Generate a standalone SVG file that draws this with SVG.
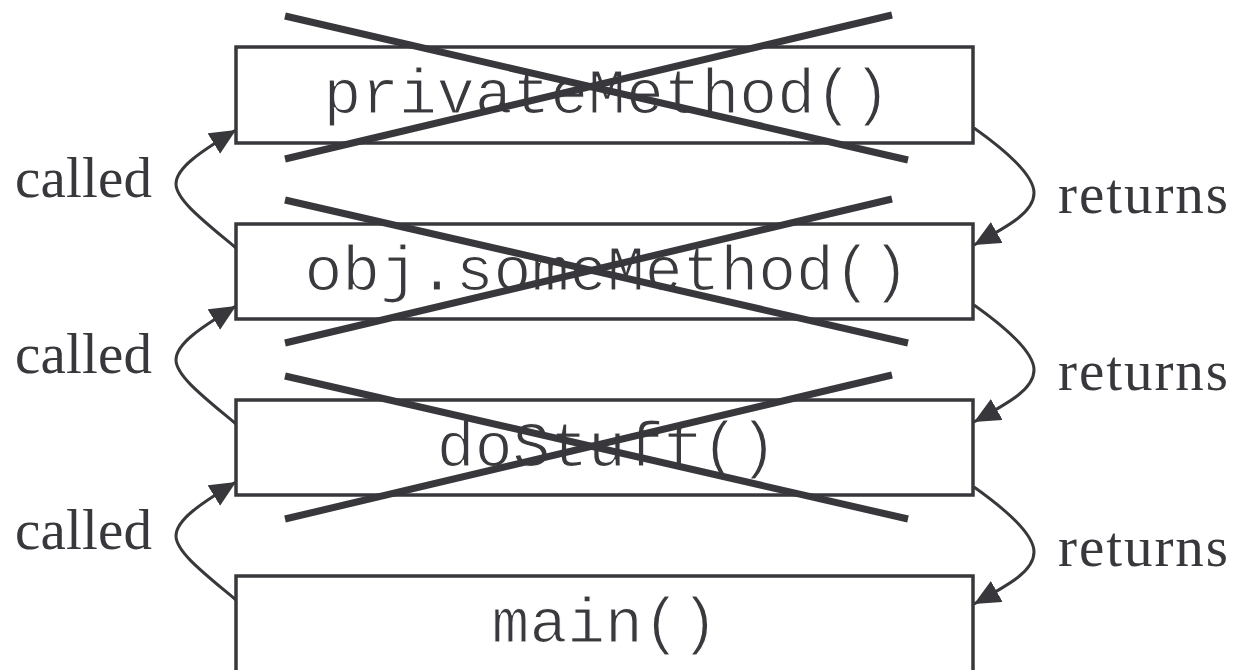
<svg xmlns="http://www.w3.org/2000/svg" width="1234" height="670" viewBox="0 0 1234 670">
  <style>
    .frame { fill: #ffffff; stroke: #38373b; stroke-width: 3.5; }
    .code { font-family: "Liberation Mono", "Courier New", monospace; font-size: 63px; fill: #3a393d; text-anchor: middle; stroke: #ffffff; stroke-width: 1.2; }
    .label { font-family: "Liberation Serif", "Times New Roman", serif; font-size: 57px; fill: #38373b; }
    .cross { stroke: #38373b; stroke-width: 7; fill: none; }
    .link { stroke: #38373b; stroke-width: 3; fill: none; marker-end: url(#tip); }
  </style>
  <defs>
    <marker id="tip" markerUnits="userSpaceOnUse" markerWidth="28" markerHeight="26" refX="26" refY="12" orient="auto">
      <path d="M0,0 L26,12 L0,24 z" fill="#38373b"/>
    </marker>
  </defs>
  <rect width="1234" height="670" fill="#ffffff"/>

  <!-- stack frames -->
  <g id="frame-privateMethod">
    <rect class="frame" x="236" y="47" width="737" height="96"/>
    <text class="code" x="607" y="113">privateMethod()</text>
  </g>
  <g id="frame-someMethod">
    <rect class="frame" x="236" y="224" width="737" height="95"/>
    <text class="code" x="607" y="290">obj.someMethod()</text>
  </g>
  <g id="frame-doStuff">
    <rect class="frame" x="236" y="400" width="737" height="95"/>
    <text class="code" x="607" y="466">doStuff()</text>
  </g>
  <g id="frame-main">
    <rect class="frame" x="236" y="576" width="737" height="110"/>
    <text class="code" x="605" y="642">main()</text>
  </g>

  <!-- popped frames are struck out -->
  <g id="strikes">
    <line class="cross" x1="285" y1="16" x2="908" y2="160"/>
    <line class="cross" x1="285" y1="159" x2="892" y2="15"/>
    <line class="cross" x1="285" y1="200" x2="908" y2="343"/>
    <line class="cross" x1="285" y1="343" x2="892" y2="199"/>
    <line class="cross" x1="285" y1="376" x2="908" y2="519"/>
    <line class="cross" x1="285" y1="519" x2="892" y2="375"/>
  </g>

  <!-- call / return arrows -->
  <g id="connectors">
    <path class="link" d="M236,248 C205,222 176,200 176,184 C176,168 200,152 236,130"/>
    <path class="link" d="M236,424 C205,398 176,376 176,360 C176,344 200,328 236,306"/>
    <path class="link" d="M236,600 C205,574 176,552 176,536 C176,520 200,504 236,482"/>
    <path class="link" d="M974,128 C1005,150 1034,175 1034,193 C1034,212 1010,225 974,245"/>
    <path class="link" d="M974,305 C1005,327 1034,352 1034,370 C1034,389 1010,402 974,422"/>
    <path class="link" d="M974,487 C1005,509 1034,534 1034,552 C1034,571 1010,584 974,604"/>
  </g>

  <g id="labels">
    <text class="label" x="15" y="197" textLength="137">called</text>
    <text class="label" x="15" y="373" textLength="137">called</text>
    <text class="label" x="15" y="549" textLength="137">called</text>
    <text class="label" x="1058" y="213" textLength="170">returns</text>
    <text class="label" x="1058" y="390" textLength="170">returns</text>
    <text class="label" x="1058" y="566" textLength="170">returns</text>
  </g>
</svg>
